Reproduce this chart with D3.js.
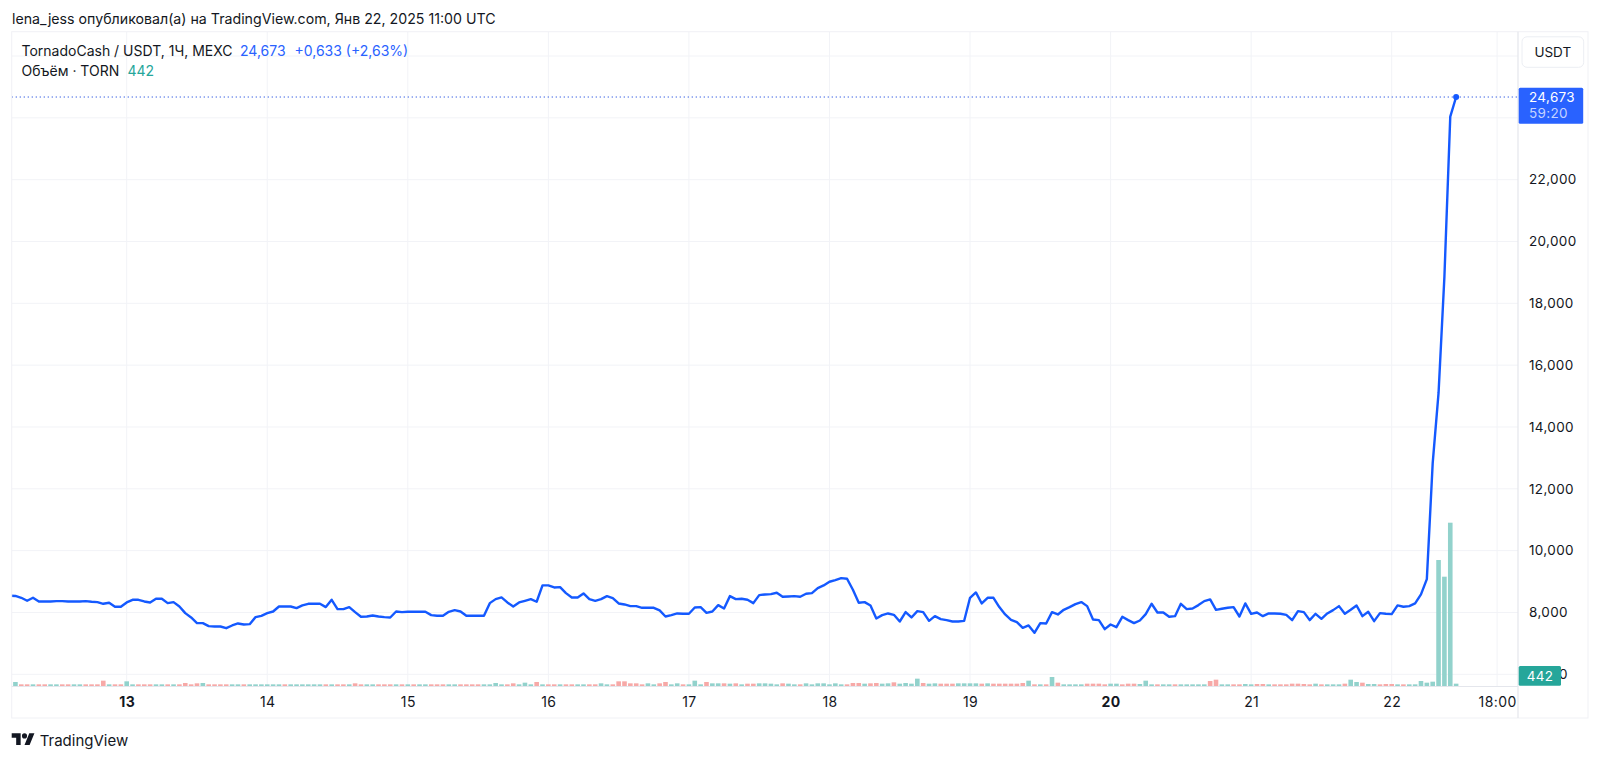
<!DOCTYPE html>
<html>
<head>
<meta charset="utf-8">
<script src="https://cdnjs.cloudflare.com/ajax/libs/d3/7.8.5/d3.min.js"></script>
<style>
html,body{margin:0;padding:0;background:#fff;}
svg{display:block;}
text{font-family:Inter,"Noto Sans",sans-serif;fill:#131722;}
</style>
</head>
<body>
<svg id="c" width="1600" height="760"></svg>
<script>
// hour offsets are counted from Jan 13 00:00; the first bar is at hour -20
const firstHour = -20;
const prices = [
8540,8535,8475,8378,8475,8356,8356,8356,8367,8367,
8356,8356,8356,8367,8346,8335,8281,8313,8184,8184,
8324,8410,8410,8356,8324,8443,8443,8302,8335,8194,
7978,7838,7654,7654,7557,7546,7546,7492,7579,7644,
7611,7622,7849,7892,7978,8032,8194,8194,8194,8140,
8227,8281,8281,8281,8173,8410,8108,8108,8173,8011,
7860,7870,7903,7870,7849,7838,8032,8011,8022,8022,
8022,8022,7914,7892,7892,8022,8076,8032,7892,7892,
7892,7892,8302,8432,8486,8324,8194,8324,8378,8432,
8346,8875,8875,8810,8821,8626,8486,8486,8616,8432,
8378,8432,8529,8464,8292,8259,8205,8205,8151,8151,
8151,8065,7870,7914,7968,7957,7957,8162,8173,7989,
8032,8238,8130,8529,8432,8443,8410,8302,8562,8583,
8594,8637,8508,8518,8529,8508,8605,8626,8788,8875,
8994,9048,9112,9091,8734,8313,8335,8227,7806,7914,
7968,7924,7708,8011,7838,8043,8011,7730,7881,7784,
7752,7708,7708,7730,8475,8648,8292,8475,8475,8173,
7935,7762,7687,7503,7579,7341,7654,7644,8011,7935,
8086,8173,8270,8335,8205,7773,7752,7460,7611,7525,
7860,7752,7654,7741,7946,8281,8000,8000,7860,7881,
8281,8108,8130,8238,8367,8421,8086,8119,8151,8173,
7870,8292,7957,8000,7881,7968,7968,7957,7924,7752,
8043,8011,7752,7957,7795,7968,8076,8205,7957,8086,
8227,7881,8022,7719,7978,7957,7946,8227,8184,8205,
8292,8583,9080,12830,15100,18860,24040,24673];
const volumes = [
315,760,315,315,315,315,315,315,315,315,
315,315,315,315,315,315,1010,315,315,315,
885,315,315,315,315,315,315,315,315,315,
570,315,505,570,315,315,315,315,315,315,
315,315,315,315,315,315,315,315,315,315,
315,315,315,315,315,315,315,315,315,505,
315,315,315,315,315,315,315,315,315,315,
315,315,315,315,315,315,315,315,315,315,
315,315,315,570,315,315,505,315,630,315,
760,315,315,315,315,315,315,315,315,315,
315,505,315,315,885,885,505,505,315,505,
315,505,760,315,505,315,315,1010,315,760,
505,505,505,442,505,315,442,442,505,505,
442,315,505,442,315,315,505,315,505,505,
315,505,315,315,570,570,442,505,570,442,
505,695,442,570,442,1390,570,442,505,442,
442,442,505,505,505,505,442,505,442,442,
442,442,442,570,1010,315,315,315,1705,630,
315,315,315,315,442,442,442,315,442,442,
315,442,442,380,1010,315,315,315,315,315,
315,315,315,315,315,945,1200,315,315,315,
315,380,315,380,380,315,315,315,315,442,
442,380,315,442,315,315,315,315,442,1200,
760,630,380,380,315,380,380,315,315,315,
315,945,630,820,23870,20710,30940,442];
const volumeUp = [
1,1,0,0,1,0,0,1,1,0,
0,1,1,0,0,0,0,1,0,0,
1,1,0,0,0,1,1,0,1,0,
0,0,0,1,0,0,0,0,1,1,
0,1,1,1,1,1,1,0,1,1,
1,1,1,1,0,1,0,0,1,0,
0,1,1,0,0,0,1,0,1,0,
1,1,0,0,0,1,1,0,0,0,
0,1,1,1,1,0,0,1,1,1,
0,1,0,0,1,0,0,1,1,0,
0,1,1,0,0,0,0,0,0,1,
1,0,0,1,1,0,1,1,1,0,
1,1,0,1,0,1,0,0,1,1,
1,1,0,1,1,0,1,1,1,1,
1,1,1,0,0,0,1,0,0,1,
1,0,1,1,1,1,0,1,1,0,
0,0,1,1,1,1,0,1,0,0,
0,0,0,0,1,0,1,0,1,0,
1,1,1,1,0,0,0,0,1,1,
0,0,0,1,1,1,0,1,1,0,
1,1,1,1,1,0,0,1,1,0,
0,1,1,0,0,1,0,0,0,0,
0,0,0,1,0,1,1,1,0,1,
1,0,1,1,0,0,0,1,0,1,
1,1,1,1,1,1,1,1];
const gridPrices = [6000,8000,10000,12000,14000,16000,18000,20000,22000,24000,26000];
const priceTicks = [6000,8000,10000,12000,14000,16000,18000,20000,22000];
const timeTickHours = [0,24,48,72,96,120,144,168,192,216,234];
const timeTickLabels = ["13","14","15","16","17","18","19","20","21","22","18:00"];
const boldTimeLabels = ["13","20"];
const lastPrice = "24,673", countdown = "59:20", lastVolume = "442";
const title = "lena_jess опубликовал(а) на TradingView.com, Янв 22, 2025 11:00 UTC";

const L=11.7,T=31.7,R=1588,B=718,AX=1518,VB=686;
const svg=d3.select("#c");
const x=d3.scaleLinear().domain([0,216]).range([126.7,1391.7]);
const y=d3.scaleLinear().domain([6000,26000]).range([674.3,56]);
const v=d3.scaleLinear().domain([0,30940]).range([VB,VB-163.3]);
const hours=prices.map((_,i)=>firstHour+i);

svg.append("defs").append("clipPath").attr("id","plot").append("rect")
  .attr("x",L).attr("y",T).attr("width",AX-L).attr("height",VB-T);

// grid
const GRID="#f2f3f7";
svg.append("g").selectAll("line").data(gridPrices).join("line")
  .attr("x1",L).attr("x2",AX).attr("y1",d=>y(d)).attr("y2",d=>y(d))
  .attr("stroke",GRID).attr("stroke-width",1);
svg.append("g").selectAll("line").data(timeTickHours).join("line")
  .attr("x1",d=>x(d)).attr("x2",d=>x(d)).attr("y1",T).attr("y2",VB)
  .attr("stroke",GRID).attr("stroke-width",1);

// volume
const plot=svg.append("g").attr("clip-path","url(#plot)");
plot.append("g").selectAll("rect").data(volumes).join("rect")
  .attr("x",(d,i)=>x(hours[i])-2.3).attr("width",4.6)
  .attr("y",d=>v(d)).attr("height",d=>VB-v(d))
  .attr("fill",(d,i)=>volumeUp[i]?"#92d2cc":"#f7a9a7");

// last price line
plot.append("line").attr("x1",L).attr("x2",AX).attr("y1",y(24673)).attr("y2",y(24673))
  .attr("stroke","#2450e0").attr("stroke-width",1).attr("stroke-dasharray","1.2 2.8");
// price line
plot.append("path").datum(prices)
  .attr("fill","none").attr("stroke","#1459ff").attr("stroke-width",2.4)
  .attr("stroke-linejoin","round")
  .attr("d",d3.line().x((d,i)=>x(hours[i])).y(d=>y(d)));
plot.append("circle").attr("cx",x(hours[hours.length-1])).attr("cy",y(24673)).attr("r",3).attr("fill","#1459ff");

// frame
const FRAME="#f0f1f5";
svg.append("rect").attr("x",L).attr("y",T).attr("width",R-L).attr("height",B-T)
  .attr("fill","none").attr("stroke",FRAME).attr("stroke-width",1);
svg.append("line").attr("x1",AX).attr("x2",AX).attr("y1",T).attr("y2",B).attr("stroke","#e4e6ec").attr("stroke-width",1.2);
svg.append("line").attr("x1",L).attr("x2",AX).attr("y1",VB+.5).attr("y2",VB+.5).attr("stroke","#e4e6ec").attr("stroke-width",1.2);

// axes
const yAxis=d3.axisRight(y).tickValues(priceTicks).tickSize(0).tickPadding(0).tickFormat(d3.format(","));
const gy=svg.append("g").attr("transform","translate(1529,0)").call(yAxis);
gy.select(".domain").remove();
gy.selectAll("text").attr("font-size",13.5).attr("letter-spacing",0.35);

const xAxis=d3.axisBottom(x).tickValues(timeTickHours).tickSize(0).tickPadding(0)
  .tickFormat((d,i)=>timeTickLabels[i]);
const gx=svg.append("g").attr("transform","translate(0,697.5)").call(xAxis);
gx.select(".domain").remove();
gx.selectAll("text").attr("font-size",14).attr("letter-spacing",0.4)
  .attr("font-weight",(d,i)=>boldTimeLabels.includes(timeTickLabels[i])?700:400);

// USDT button
svg.append("rect").attr("x",1522).attr("y",36.8).attr("width",61.7).attr("height",30.5).attr("rx",5)
  .attr("fill","#fff").attr("stroke","#eceef3");
svg.append("text").attr("x",1552.8).attr("y",57).attr("text-anchor","middle").attr("font-size",13.5).text("USDT");

// last price label
svg.append("rect").attr("x",1518.7).attr("y",87.7).attr("width",64.5).attr("height",36).attr("rx",1.5).attr("fill","#2962ff");
svg.append("text").attr("x",1529).attr("y",101.5).attr("font-size",13.5).attr("letter-spacing",0.35).style("fill","#fff").text(lastPrice);
svg.append("text").attr("x",1529).attr("y",118).attr("font-size",13.5).attr("letter-spacing",0.35).style("fill","#c4d3ff").text(countdown);

// volume label
svg.append("rect").attr("x",1518.7).attr("y",666).attr("width",42.3).attr("height",19.7).attr("rx",1.5).attr("fill","#26a69a");
svg.append("text").attr("x",1540).attr("y",681).attr("text-anchor","middle").attr("font-size",13.5).attr("letter-spacing",0.35).style("fill","#fff").text(lastVolume);

// header + legend
svg.append("text").attr("x",12).attr("y",24).attr("font-size",14.2).text(title);
const leg=svg.append("text").attr("x",21.5).attr("y",56).attr("font-size",14);
leg.append("tspan").text("TornadoCash / USDT, 1Ч, MEXC");
leg.append("tspan").attr("x",240).style("fill","#2962ff").text("24,673");
leg.append("tspan").attr("x",294.5).style("fill","#2962ff").text("+0,633 (+2,63%)");
const leg2=svg.append("text").attr("x",21.5).attr("y",75.5).attr("font-size",14);
leg2.append("tspan").text("Объём · TORN");
leg2.append("tspan").attr("x",127.5).style("fill","#26a69a").text(lastVolume);

// logo
const logo=svg.append("g").attr("transform","translate(11.7,730.8) scale(0.64)");
logo.append("path").attr("d","M14 22H7V11H0V4h14v18zM28 22h-8l7.5-18h8L28 22z").attr("fill","#131722");
logo.append("circle").attr("cx",20).attr("cy",8).attr("r",4).attr("fill","#131722");
svg.append("text").attr("x",39.7).attr("y",745.5).attr("font-size",15).text("TradingView");
</script>
</body>
</html>
